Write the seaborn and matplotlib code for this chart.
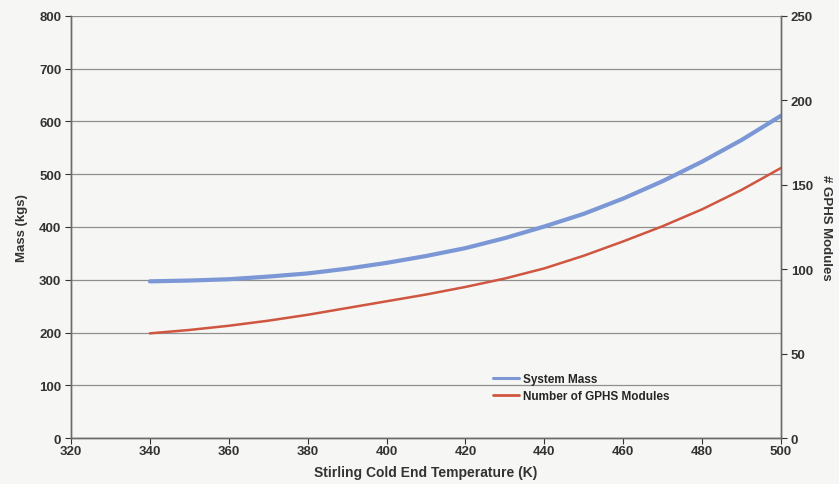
import numpy as np
import pandas as pd
import seaborn as sns
import matplotlib.pyplot as plt
from matplotlib.lines import Line2D

# values
temps = [340, 350, 360, 370, 380, 390, 400, 410, 420, 430, 440, 450, 460, 470, 480, 490, 500]
system_mass = [297, 298.5, 301, 306, 312, 321, 332, 345, 360, 379, 401, 425, 454, 487, 524, 565, 611]
gphs_modules = [62, 64, 66.5, 69.5, 73, 77, 81, 85, 89.5, 94.5, 100.5, 108, 116.5, 125.5, 135.5, 147, 160]

x_ticks = list(range(320, 501, 20))
mass_ticks = list(range(0, 801, 100))
module_ticks = list(range(0, 251, 50))

df = pd.DataFrame({'temp': temps, 'mass': system_mass, 'modules': gphs_modules})

sns.set_style('white')
plt.rcParams['font.family'] = ['Liberation Sans', 'DejaVu Sans']
plt.rcParams['font.weight'] = 'bold'

bg = '#f6f6f4'
blue = '#7b97d6'
red = '#cf5640'
txt = '#333333'

fig = plt.figure(figsize=(8.39, 4.85), dpi=100)
fig.patch.set_facecolor(bg)
ax = fig.add_axes([0.0846, 0.0948, 0.8464, 0.8702])
ax.set_facecolor(bg)

sns.lineplot(data=df, x='temp', y='mass', ax=ax, color=blue, linewidth=3.0, legend=False)
ax.set_xlim(320, 500)
ax.set_ylim(0, 800)
ax.set_xticks(x_ticks)
ax.set_yticks(mass_ticks)
ax.yaxis.grid(True, color='#8f8f8f', linewidth=0.9)
ax.xaxis.grid(False)
ax.set_axisbelow(True)

ax2 = ax.twinx()
sns.lineplot(data=df, x='temp', y='modules', ax=ax2, color=red, linewidth=1.8, legend=False)
ax2.set_ylim(0, 250)
ax2.set_yticks(module_ticks)
ax2.grid(False)

for a in (ax, ax2):
    for s in a.spines.values():
        s.set_color('#6a6a6a')
        s.set_linewidth(1.0)
    a.spines['top'].set_visible(False)
    a.tick_params(axis='both', labelsize=9.5, colors=txt, length=4, width=0.8,
                  direction='out')

ax.tick_params(axis='y', left=True, pad=3)
ax.tick_params(axis='x', bottom=True, pad=1)
ax2.tick_params(axis='y', right=True, pad=3)

ax.set_xlabel('Stirling Cold End Temperature (K)', fontsize=10, fontweight='bold',
              color=txt, labelpad=6)
ax.set_ylabel('Mass (kgs)', fontsize=9.5, fontweight='bold', color=txt, labelpad=8)
ax2.set_ylabel('# GPHS Modules', fontsize=9.5, fontweight='bold', color=txt,
               rotation=270, labelpad=14)

handles = [Line2D([0], [0], color=blue, linewidth=2.2),
           Line2D([0], [0], color=red, linewidth=2.0)]
ax.legend(handles, ['System Mass', 'Number of GPHS Modules'], loc='lower left',
          bbox_to_anchor=(0.58, 0.06), frameon=False, fontsize=8.5,
          handlelength=2.2, handletextpad=0.3, labelspacing=0.45)

fig.savefig('out.png', dpi=100, facecolor=bg)
